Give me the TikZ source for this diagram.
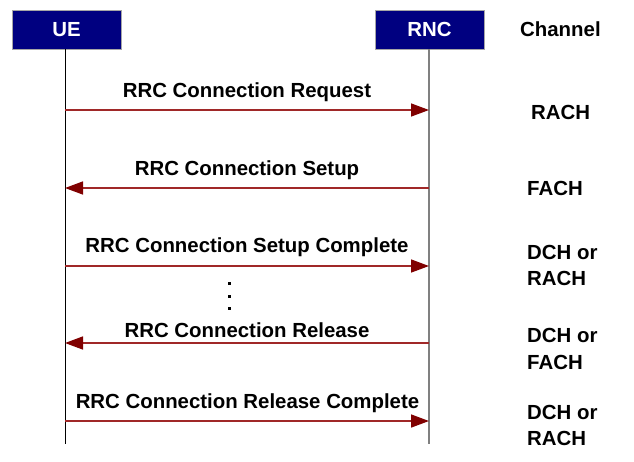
\documentclass[tikz,border=0pt]{standalone}
\usepackage{fontspec}
\setmainfont{Liberation Sans}
\usetikzlibrary{arrows.meta}
\definecolor{boxblue}{RGB}{0,0,128}
\definecolor{msgred}{RGB}{160,40,40}
\definecolor{tipred}{RGB}{128,0,0}
\tikzset{
  actor/.style={draw=gray!70, line width=0.8pt, fill=boxblue, text=white, font=\bfseries\fontsize{20.4}{24}\selectfont, minimum width=109pt, minimum height=39pt, inner sep=0pt},
  lifeline/.style={line width=1pt},
  msg/.style={draw=msgred, line width=1.5pt, -{Triangle[length=18pt,width=13pt,color=tipred]}},
  msglabel/.style={font=\bfseries\fontsize{20.4}{24}\selectfont, anchor=base, inner sep=0pt},
  chan/.style={font=\bfseries\fontsize{20.4}{24}\selectfont, anchor=base west, inner sep=0pt},
}
\begin{document}
\begin{tikzpicture}[x=1pt,y=-1pt]
\useasboundingbox (0,0) rectangle (634,461);
\node[actor] (ue) at (66.5,29.5) {UE};
\node[actor] (rnc) at (429.5,29.5) {RNC};
\node[chan] (chh) at (520,36) {Channel};
\coordinate (ueend) at (65,444);
\coordinate (rncend) at (429,444);
\coordinate (uetop) at (65,49);
\coordinate (rnctop) at (429,49);
\draw[lifeline, black] (uetop) -- (ueend);
\draw[lifeline, gray, line width=1.4pt] (rnctop) -- (rncend);
% message anchors
\foreach \n/\y in {1/110,2/188,3/266,4/343,5/421}{
  \coordinate (u\n) at (65,\y);
  \coordinate (r\n) at (429,\y);
}
\draw[msg] (u1) -- (r1);
\draw[msg] (r2) -- (u2);
\draw[msg] (u3) -- (r3);
\draw[msg] (r4) -- (u4);
\draw[msg] (u5) -- (r5);
\node[msglabel] (l1) at (247,97) {RRC Connection Request};
\node[msglabel] (l2) at (247,175) {RRC Connection Setup};
\node[msglabel] (l3) at (247,252) {RRC Connection Setup Complete};
\node[msglabel] (l4) at (247,337) {RRC Connection Release};
\node[msglabel] (l5) at (247.5,408) {RRC Connection Release Complete};
% ellipsis dots
\foreach \y in {283,296,308}{
  \fill (227.5,\y-1.5) rectangle (230.5,\y+1.5);
}
% channels
\node[chan] (c1) at (531,119) {RACH};
\node[chan] (c2) at (527,195) {FACH};
\node[chan] (c3a) at (527,259) {DCH or};
\node[chan] (c3b) at (527,285) {RACH};
\node[chan] (c4a) at (527,342) {DCH or};
\node[chan] (c4b) at (527,369) {FACH};
\node[chan] (c5a) at (527,419) {DCH or};
\node[chan] (c5b) at (527,445) {RACH};
\end{tikzpicture}
\end{document}
